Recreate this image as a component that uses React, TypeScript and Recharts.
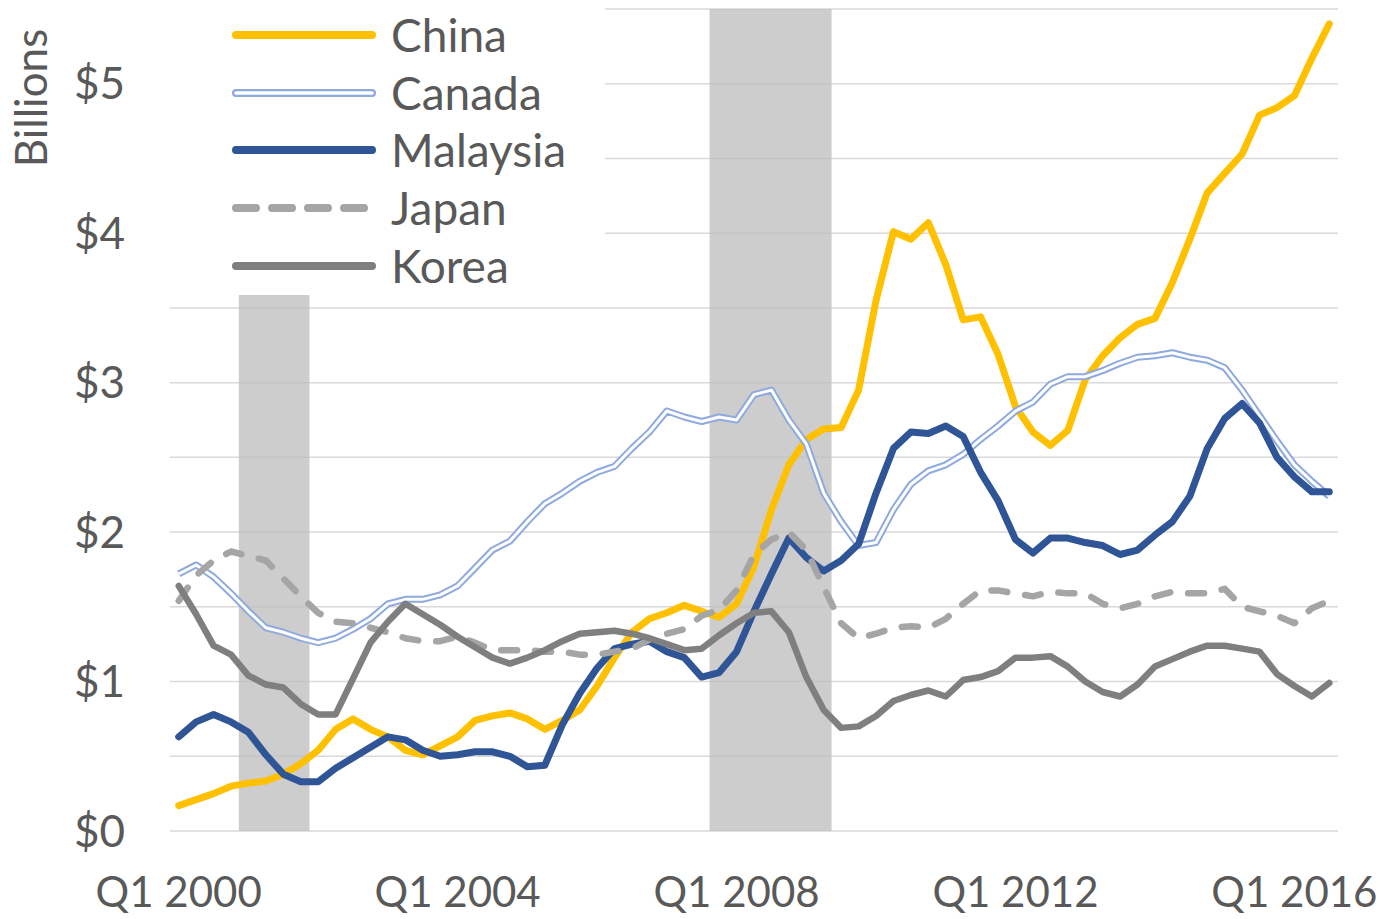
import { LineChart, Line, XAxis, YAxis, CartesianGrid, ReferenceArea, Legend } from "recharts";

// quarterly values, Q1 2000 .. Q3 2016, billions of dollars
const china = [
  0.17, 0.21, 0.25, 0.3, 0.32, 0.335, 0.38, 0.45, 0.54, 0.68,
  0.75, 0.68, 0.63, 0.54, 0.51, 0.57, 0.63, 0.74, 0.77, 0.79,
  0.75, 0.68, 0.74, 0.81, 0.97, 1.16, 1.33, 1.42, 1.46, 1.51,
  1.47, 1.43, 1.52, 1.77, 2.15, 2.45, 2.62, 2.69, 2.7, 2.95,
  3.55, 4.01, 3.96, 4.07, 3.79, 3.42, 3.44, 3.19, 2.84, 2.67,
  2.58, 2.68, 3.02, 3.18, 3.3, 3.39, 3.43, 3.67, 3.96, 4.27,
  4.4, 4.53, 4.79, 4.84, 4.92, 5.17, 5.4,
];
const canada = [
  1.72, 1.78, 1.7, 1.59, 1.47, 1.36, 1.33, 1.29, 1.26, 1.29,
  1.35, 1.42, 1.52, 1.55, 1.55, 1.58, 1.64, 1.76, 1.88, 1.94,
  2.07, 2.19, 2.26, 2.34, 2.4, 2.44, 2.56, 2.67, 2.81, 2.77,
  2.74, 2.77, 2.75, 2.92, 2.95, 2.75, 2.59, 2.26, 2.07, 1.91,
  1.93, 2.15, 2.32, 2.41, 2.45, 2.52, 2.62, 2.71, 2.81, 2.87,
  2.99, 3.04, 3.04, 3.08, 3.13, 3.17, 3.18, 3.2, 3.17, 3.15,
  3.1, 2.95, 2.78, 2.61, 2.45, 2.34, 2.24,
];
const malaysia = [
  0.63, 0.73, 0.78, 0.73, 0.66, 0.51, 0.38, 0.33, 0.33, 0.42,
  0.49, 0.56, 0.63, 0.61, 0.54, 0.5, 0.51, 0.53, 0.53, 0.5,
  0.43, 0.44, 0.71, 0.92, 1.09, 1.22, 1.25, 1.27, 1.2, 1.16,
  1.03, 1.06, 1.2, 1.47, 1.72, 1.96, 1.83, 1.74, 1.81, 1.92,
  2.26, 2.56, 2.67, 2.66, 2.71, 2.64, 2.4, 2.21, 1.95, 1.86,
  1.96, 1.96, 1.93, 1.91, 1.85, 1.88, 1.98, 2.07, 2.24, 2.56,
  2.76, 2.86, 2.73, 2.5, 2.37, 2.27, 2.27,
];
const japan = [
  1.54, 1.71, 1.81, 1.87, 1.84, 1.81, 1.69, 1.57, 1.46, 1.4,
  1.39, 1.36, 1.33, 1.29, 1.27, 1.27, 1.3, 1.26, 1.21, 1.21,
  1.21, 1.2, 1.2, 1.18, 1.18, 1.2, 1.22, 1.28, 1.32, 1.35,
  1.44, 1.48, 1.61, 1.85, 1.95, 2.0, 1.88, 1.63, 1.39, 1.29,
  1.32, 1.36, 1.37, 1.36, 1.42, 1.52, 1.61, 1.61, 1.59, 1.57,
  1.6, 1.59, 1.59, 1.52, 1.49, 1.52, 1.57, 1.6, 1.59, 1.59,
  1.62, 1.5, 1.47, 1.44, 1.39, 1.49, 1.54,
];
const korea = [
  1.64, 1.45, 1.24, 1.18, 1.04, 0.98, 0.96, 0.85, 0.78, 0.78,
  1.02, 1.26, 1.4, 1.52, 1.45, 1.38, 1.3, 1.23, 1.16, 1.12,
  1.16, 1.21, 1.27, 1.32, 1.33, 1.34, 1.32, 1.29, 1.25, 1.21,
  1.22, 1.31, 1.39, 1.46, 1.47, 1.33, 1.03, 0.81, 0.69, 0.7,
  0.77, 0.87, 0.91, 0.94, 0.9, 1.01, 1.03, 1.07, 1.16, 1.16,
  1.17, 1.1, 1.0, 0.93, 0.9, 0.98, 1.1, 1.15, 1.2, 1.24,
  1.24, 1.22, 1.2, 1.05, 0.97, 0.9, 0.99,
];

const quarters = china.map((_, i) => `Q${(i % 4) + 1} ${2000 + Math.floor(i / 4)}`);
const xTicks = [0, 16, 32, 48, 64];
const yTicks = [0, 0.5, 1, 1.5, 2, 2.5, 3, 3.5, 4, 4.5, 5, 5.5];

// recession shading, in quarter index units
const recessions = [
  { start: 3.45, end: 7.5 },
  { start: 30.45, end: 37.45 },
];

const series = [
  { name: "China", color: "#FFC000" },
  { name: "Canada", color: "#8FAADC", double: true },
  { name: "Malaysia", color: "#2F5597" },
  { name: "Japan", color: "#A5A5A5", dashed: true },
  { name: "Korea", color: "#7F7F7F" },
];

const data = quarters.map((q, i) => ({
  i,
  q,
  China: china[i],
  Canada: canada[i],
  Malaysia: malaysia[i],
  Japan: japan[i],
  Korea: korea[i],
}));

const font = "Lato, 'Open Sans', sans-serif";
const textColor = "#595959";

function LegendBox() {
  return (
    <div style={{ width: 435, height: 295, background: "#fff", position: "relative" }}>
      {series.map((s, k) => (
        <div
          key={s.name}
          style={{ position: "absolute", left: 0, top: 35 + k * 57.7 - 28, height: 56, display: "flex", alignItems: "center" }}
        >
          <svg width={215} height={20} style={{ display: "block" }}>
            <line
              x1={66}
              x2={202}
              y1={10}
              y2={10}
              stroke={s.color}
              strokeWidth={8}
              strokeLinecap="round"
              strokeDasharray={s.dashed ? "20 16" : undefined}
            />
            {s.double && <line x1={66} x2={202} y1={10} y2={10} stroke="#fff" strokeWidth={3.5} strokeLinecap="round" />}
          </svg>
          <span style={{ fontFamily: font, fontSize: 46, color: textColor, lineHeight: "56px", marginLeft: 6 }}>{s.name}</span>
        </div>
      ))}
    </div>
  );
}

export default function App() {
  return (
    <div style={{ position: "absolute", left: 0, top: 0, width: 1383, height: 919, background: "#fff" }}>
      <div
        style={{
          position: "absolute",
          left: 30,
          top: 98,
          transform: "translate(-50%, -50%) rotate(-90deg)",
          fontFamily: font,
          fontSize: 44,
          color: textColor,
          whiteSpace: "nowrap",
          zIndex: 2,
        }}
      >
        Billions
      </div>
      <LineChart width={1383} height={919} data={data} margin={{ top: 9, right: 45, bottom: 18, left: 20 }}>
        <CartesianGrid vertical={false} stroke="#D9D9D9" strokeWidth={1.5} />
        <XAxis
          dataKey="i"
          type="number"
          domain={[-0.5, 66.5]}
          ticks={xTicks}
          tickFormatter={(v) => quarters[v]}
          axisLine={false}
          tickLine={false}
          tickSize={0}
          tickMargin={46}
          height={70}
          interval={0}
          tick={{ fill: textColor, fontSize: 42, fontFamily: font }}
        />
        <YAxis
          type="number"
          domain={[0, 5.5]}
          ticks={yTicks}
          tickFormatter={(v) => (Number.isInteger(v) ? `$${v}` : "")}
          axisLine={false}
          tickLine={false}
          tickSize={0}
          tickMargin={45}
          width={150}
          interval={0}
          tick={{ fill: textColor, fontSize: 44, fontFamily: font }}
        />
        {recessions.map((r) => (
          <ReferenceArea key={r.start} x1={r.start} x2={r.end} y1={0} y2={5.5} fill="#BFBFBF" fillOpacity={0.78} stroke="none" />
        ))}
        <Line dataKey="China" stroke="#FFC000" strokeWidth={7} dot={false} strokeLinejoin="round" strokeLinecap="round" isAnimationActive={false} />
        <Line dataKey="Canada" stroke="#8FAADC" strokeWidth={7} dot={false} strokeLinejoin="round" isAnimationActive={false} legendType="none" />
        <Line dataKey="Canada" stroke="#FFFFFF" strokeWidth={3} dot={false} strokeLinejoin="round" isAnimationActive={false} legendType="none" />
        <Line dataKey="Malaysia" stroke="#2F5597" strokeWidth={7} dot={false} strokeLinejoin="round" strokeLinecap="round" isAnimationActive={false} />
        <Line dataKey="Japan" stroke="#A5A5A5" strokeWidth={6.5} strokeDasharray="16 18" dot={false} strokeLinejoin="round" strokeLinecap="round" isAnimationActive={false} />
        <Line dataKey="Korea" stroke="#7F7F7F" strokeWidth={6.5} dot={false} strokeLinejoin="round" strokeLinecap="round" isAnimationActive={false} />
        <Legend
          layout="horizontal"
          verticalAlign="middle"
          align="center"
          content={() => <LegendBox />}
          wrapperStyle={{ position: "absolute", left: 170, top: 0, width: 435, height: 295 }}
        />
      </LineChart>
    </div>
  );
}
